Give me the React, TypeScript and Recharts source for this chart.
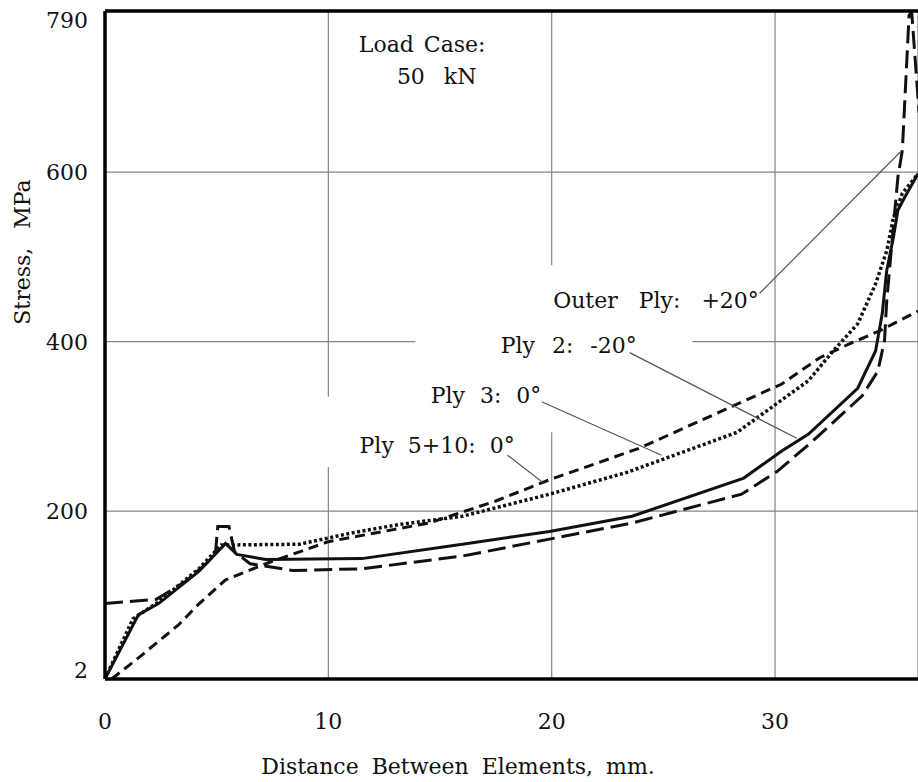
import { LineChart, Line, XAxis, YAxis, CartesianGrid, ReferenceLine, ReferenceArea, ReferenceDot } from "recharts";

const FONT = "'DejaVu Serif', serif";
const INK = "#111";

// axis ticks
const xTicks = [0, 10, 20, 30];
const yTicks = [2, 200, 400, 600, 790];

// Outer Ply: +20° (long dash)
const outerX = [0, 2.3, 3.6, 4.6, 4.95, 5.05, 5.55, 5.8, 6.5, 8.4, 11.5, 16, 19.9, 23.6, 28.5, 30.1, 31.7, 33.9, 34.6, 34.9, 35.0, 35.2, 35.5, 35.7, 36.0, 36.12, 36.45];
const outerY = [91, 96, 117, 140, 152, 182, 182, 152, 138, 130, 132, 147, 167, 186, 220, 247, 283, 336, 365, 401, 448, 507, 594, 626, 785, 788, 670];

// Ply 2: -20° (solid)
const ply2X = [0, 1.5, 2.4, 4.2, 5.4, 5.9, 7.2, 11.5, 16, 19.9, 23.6, 28.6, 30.3, 31.5, 33.7, 34.5, 34.8, 35.0, 35.3, 35.5, 35.8, 36.4];
const ply2Y = [2, 78, 91, 129, 162, 149, 143, 144, 161, 176, 194, 239, 271, 291, 345, 389, 433, 484, 523, 555, 570, 598];

// Ply 3: 0° (dotted)
const ply3X = [0, 1.25, 2.4, 4.2, 5.2, 8.7, 11, 13.1, 16, 19.9, 23.4, 28.3, 31.5, 32.6, 33.7, 34.5, 35.0, 35.3, 35.7, 36.4];
const ply3Y = [2, 73, 93, 132, 160, 161, 174, 184, 194, 220, 246, 293, 354, 389, 421, 468, 507, 546, 575, 598];

// Ply 5+10: 0° (short dash)
const ply5X = [0.3, 1.5, 3.3, 4.1, 5.4, 7.4, 10, 14.5, 17.5, 19.9, 23.9, 28.2, 30.3, 32.0, 33.3, 34.7, 36.4];
const ply5Y = [2, 27, 66, 88, 119, 140, 164, 186, 212, 237, 274, 325, 350, 381, 397, 413, 436];

const toPoints = (xs: number[], ys: number[]) => xs.map((x, i) => ({ x, y: ys[i] }));

const outer = toPoints(outerX, outerY);
const ply2 = toPoints(ply2X, ply2Y);
const ply3 = toPoints(ply3X, ply3Y);
const ply5 = toPoints(ply5X, ply5Y);

// annotation text and where it sits (data coords)
const notes = [
  { text: "Load Case:", x: 14.2, y: 750, size: 22, ws: 3 },
  { text: "50 kN", x: 14.85, y: 713, size: 22, ws: 12 },
  { text: "Outer Ply: +20°", x: 24.67, y: 449, size: 22, ws: 14 },
  { text: "Ply 2: -20°", x: 20.76, y: 396, size: 22, ws: 10 },
  { text: "Ply 3: 0°", x: 17.06, y: 336, size: 22, ws: 8 },
  { text: "Ply 5+10: 0°", x: 14.87, y: 278, size: 22, ws: 7 },
];

// leader lines from label to curve
const leaders = [
  [{ x: 29.31, y: 457 }, { x: 35.62, y: 624 }],
  [{ x: 23.49, y: 387 }, { x: 30.97, y: 286 }],
  [{ x: 19.55, y: 329 }, { x: 24.92, y: 266 }],
  [{ x: 18.02, y: 266 }, { x: 19.59, y: 234 }],
];

// white patches behind the labels (grid is broken there)
const blanks = [
  { x1: 13.9, x2: 26.3, y1: 378, y2: 490 },
  { x1: 14.0, x2: 22.0, y1: 293, y2: 378 },
  { x1: 9.4, x2: 19.0, y1: 252, y2: 335 },
];

const txt = { fontFamily: FONT, fontSize: 22, fill: INK };

const noteLabel = (text: string, size: number, ws: number) => (props: any) => {
  const vb = props.viewBox || { x: 0, y: 0, width: 0, height: 0 };
  return (
    <text
      x={vb.x + (vb.width || 0) / 2}
      y={vb.y + (vb.height || 0) / 2}
      textAnchor="middle"
      dominantBaseline="central"
      {...txt}
      fontSize={size}
      style={{ wordSpacing: ws }}
    >
      {text}
    </text>
  );
};

const XTick = (props: any) => {
  const { x, y, payload } = props;
  return (
    <text x={x} y={y + 48} textAnchor="middle" {...txt}>
      {payload.value}
    </text>
  );
};

const YTick = (props: any) => {
  const { x, y, payload } = props;
  const dy = payload.value === 790 ? 17 : payload.value === 2 ? -1 : 8;
  return (
    <text x={x} y={y + dy} textAnchor="end" {...txt}>
      {payload.value}
    </text>
  );
};

const XTitle = (props: any) => {
  const vb = props.viewBox || { x: 105, y: 679 };
  return (
    <text x={vb.x + 353} y={vb.y + 95} textAnchor="middle" {...txt} style={{ wordSpacing: 6 }}>
      Distance Between Elements, mm.
    </text>
  );
};

const YTitle = (props: any) => {
  const vb = props.viewBox || { x: 0, y: 11 };
  return (
    <text
      transform={`translate(${vb.x + 22}, ${vb.y + 241}) rotate(-90)`}
      textAnchor="middle"
      dominantBaseline="central"
      {...txt}
      style={{ wordSpacing: 12 }}
    >
      Stress, MPa
    </text>
  );
};

export default function App() {
  return (
    <div style={{ position: "absolute", left: 0, top: 0, width: 918, height: 782, background: "#fff", overflow: "hidden" }}>
      <LineChart width={918} height={782} margin={{ top: 11, right: 0, bottom: 0, left: 0 }}>
        <CartesianGrid stroke="#858585" strokeWidth={1.2} />
        <XAxis
          type="number"
          dataKey="x"
          domain={[0, 36.4]}
          ticks={xTicks}
          allowDataOverflow
          height={103}
          tickSize={0}
          tickLine={false}
          axisLine={{ stroke: "#000", strokeWidth: 3.5 }}
          tick={<XTick />}
          label={XTitle}
        />
        <YAxis
          type="number"
          dataKey="y"
          domain={[2, 790]}
          ticks={yTicks}
          allowDataOverflow
          width={105}
          tickSize={0}
          tickMargin={17}
          tickLine={false}
          axisLine={{ stroke: "#000", strokeWidth: 3.5 }}
          tick={<YTick />}
          label={YTitle}
        />
        {blanks.map((b, i) => (
          <ReferenceArea key={i} x1={b.x1} x2={b.x2} y1={b.y1} y2={b.y2} fill="#fff" fillOpacity={1} stroke="none" />
        ))}
        <Line data={ply5} dataKey="y" type="linear" stroke={INK} strokeWidth={3} strokeDasharray="10 6" dot={false} isAnimationActive={false} />
        <Line data={ply3} dataKey="y" type="linear" stroke={INK} strokeWidth={3.5} strokeDasharray="3 2.5" dot={false} isAnimationActive={false} />
        <Line data={ply2} dataKey="y" type="linear" stroke={INK} strokeWidth={3} dot={false} isAnimationActive={false} />
        <Line data={outer} dataKey="y" type="linear" stroke={INK} strokeWidth={3} strokeDasharray="18 7" dot={false} isAnimationActive={false} />
        {leaders.map((seg, i) => (
          <ReferenceLine key={i} segment={seg} stroke="#555" strokeWidth={1.2} />
        ))}
        {notes.map((n, i) => (
          <ReferenceDot key={i} x={n.x} y={n.y} r={0} fill="none" stroke="none" label={noteLabel(n.text, n.size, n.ws)} />
        ))}
        <ReferenceLine y={790} stroke="#000" strokeWidth={3.5} />
      </LineChart>
    </div>
  );
}
